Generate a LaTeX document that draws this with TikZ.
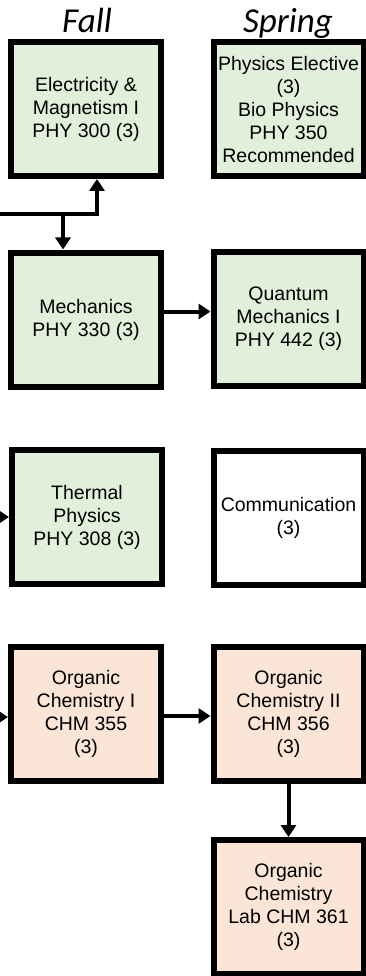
\documentclass[tikz,border=0pt]{standalone}
\usepackage{fontspec}
\setmainfont{Liberation Sans}
\newfontfamily\termfont{Carlito}
\usetikzlibrary{arrows.meta}
\definecolor{physgreen}{HTML}{E2EFDA}
\definecolor{chemorange}{HTML}{FBE5D6}
\begin{document}
\begin{tikzpicture}[x=1pt,y=-1pt,
course/.style ={rectangle, draw=black, line width=6pt, fill=physgreen,
  minimum width=150pt, minimum height=134pt, inner sep=0pt,
  align=center, font=\fontsize{19.5}{23}\selectfont
},
chem/.style ={course, fill=chemorange},
plain/.style ={course, fill=white},
term/.style ={anchor=base, font=\termfont\itshape\fontsize{35}{40}\selectfont},
arr/.style ={line width=4pt, -{Triangle[width=15pt,length=12pt]}}
]
\useasboundingbox (0,0) rectangle (365,976);

\node (fall) at (87,33) [term] {Fall};
\node (spring) at (288,33) [term] {Spring};

\node (em) at (86,109) [course] {Electricity \&\\Magnetism I\\PHY 300 (3)};
\node (elec) at (288.5,109.5) [course] {Physics Elective\\(3)\\Bio Physics\\PHY 350\\Recommended};

\node (mech) at (86,319.5) [course] {Mechanics\\PHY 330 (3)};
\node (qm) at (288.5,319) [course] {Quantum\\Mechanics I\\PHY 442 (3)};

\node (therm) at (87,517) [course] {Thermal\\Physics\\PHY 308 (3)};
\node (comm) at (288.5,518) [plain] {Communication\\(3)};

\node (oc1) at (86,713.5) [chem] {Organic\\Chemistry I\\CHM 355\\(3)};
\node (oc2) at (288.5,714) [chem] {Organic\\Chemistry II\\CHM 356\\(3)};
\node (lab) at (288.5,907) [chem] {Organic\\Chemistry\\Lab CHM 361\\(3)};

% connectors coming in from the previous year
\coordinate (in1) at (-5,214);
\coordinate (in2) at (-30,517);
\coordinate (in3) at (-30,717);

\draw[arr] (in1) -| ([xshift=11pt]em.south);
\draw[arr] ([xshift=-23pt]mech.north |- in1) -- ([xshift=-23pt]mech.north);
\draw[arr] ([yshift=8pt]mech.east) -- (qm.west |- 0,311.5);
\draw[arr] (in2) -- (therm.west |- in2);
\draw[arr] (in3) -- (oc1.west |- in3);
\draw[arr] (oc1.east |- 0,716) -- (oc2.west |- 0,716);
\draw[arr] (oc2.south) -- (lab.north);

\end{tikzpicture}
\end{document}
